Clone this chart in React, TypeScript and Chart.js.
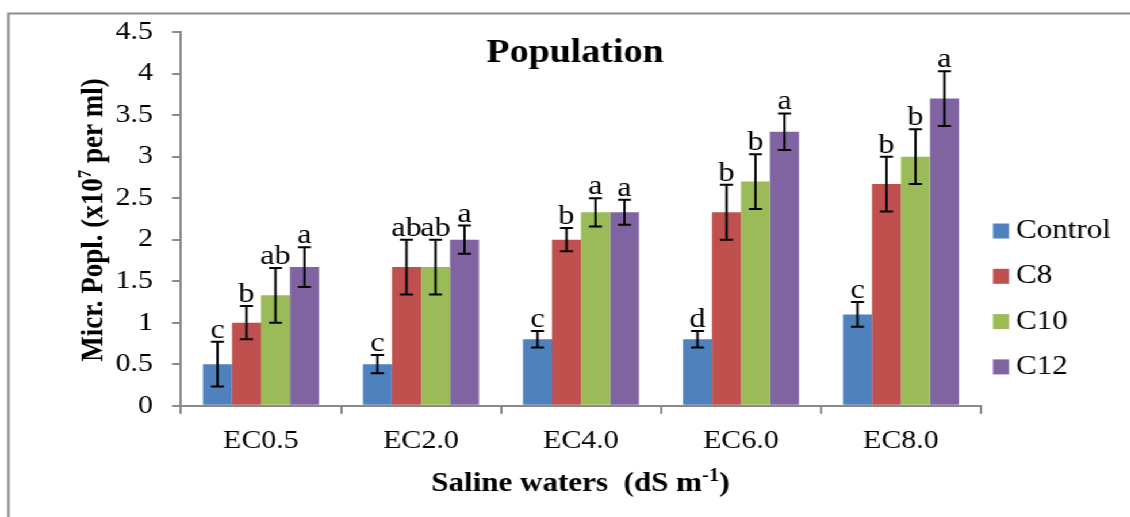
import React, { useEffect, useRef } from 'react';
import { Chart, registerables } from 'chart.js';

Chart.register(...registerables);

// ---------------- data ----------------
const categories = ['EC0.5', 'EC2.0', 'EC4.0', 'EC6.0', 'EC8.0'];
const seriesNames = ['Control', 'C8', 'C10', 'C12'];
const controlValues = [0.5, 0.5, 0.8, 0.8, 1.1];
const c8Values = [1.0, 1.67, 2.0, 2.33, 2.67];
const c10Values = [1.33, 1.67, 2.33, 2.7, 3.0];
const c12Values = [1.67, 2.0, 2.33, 3.3, 3.7];
const controlErrors = [0.27, 0.11, 0.1, 0.1, 0.15];
const c8Errors = [0.2, 0.33, 0.14, 0.33, 0.33];
const c10Errors = [0.33, 0.33, 0.17, 0.33, 0.33];
const c12Errors = [0.24, 0.17, 0.15, 0.22, 0.33];
const controlLetters = ['c', 'c', 'c', 'd', 'c'];
const c8Letters = ['b', 'ab', 'b', 'b', 'b'];
const c10Letters = ['ab', 'ab', 'a', 'b', 'b'];
const c12Letters = ['a', 'a', 'a', 'a', 'a'];
const yTickLabels = ['0', '0.5', '1', '1.5', '2', '2.5', '3', '3.5', '4', '4.5'];

const seriesValues = [controlValues, c8Values, c10Values, c12Values];
const seriesErrors = [controlErrors, c8Errors, c10Errors, c12Errors];
const seriesLetters = [controlLetters, c8Letters, c10Letters, c12Letters];
const colors = ['#4F81BD', '#C0504D', '#9BBB59', '#8064A2'];

// ---------------- layout ----------------
const SX = 1.15; // horizontal stretch of the whole picture
const W = 1130;
const H = 517;
const CW = Math.round(W / SX);
const FONT = '"Liberation Serif", "Times New Roman", serif';
const AXIS_GRAY = '#898989';
const px = (pageX: number) => pageX / SX;

const PLOT_LEFT = 181;
const PLOT_RIGHT = 981;
const PLOT_TOP = 30;
const PLOT_BOTTOM = 405.7;

const decorPlugin = {
  id: 'decor',
  beforeDraw(chart: any) {
    const ctx = chart.ctx;
    ctx.save();
    ctx.fillStyle = '#ffffff';
    ctx.fillRect(0, 0, chart.width, chart.height);
    ctx.strokeStyle = '#8c8c8c';
    ctx.lineWidth = 2;
    ctx.strokeRect(px(8.5), 13.5, chart.width + 20, chart.height + 20);
    ctx.restore();
  },
  afterDatasetsDraw(chart: any) {
    const ctx = chart.ctx;
    const yScale = chart.scales.y;
    ctx.save();
    seriesValues.forEach((vals, i) => {
      const meta = chart.getDatasetMeta(i);
      vals.forEach((v, j) => {
        const bar = meta.data[j];
        const x = bar.x;
        const e = seriesErrors[i][j];
        const yTop = yScale.getPixelForValue(v + e);
        const yBot = yScale.getPixelForValue(v - e);
        const cap = px(6.5);
        ctx.strokeStyle = '#000';
        ctx.lineWidth = 2;
        ctx.beginPath();
        ctx.moveTo(x, yTop);
        ctx.lineTo(x, yBot);
        ctx.moveTo(x - cap, yTop);
        ctx.lineTo(x + cap, yTop);
        ctx.moveTo(x - cap, yBot);
        ctx.lineTo(x + cap, yBot);
        ctx.stroke();
        ctx.fillStyle = '#000';
        ctx.font = `28px ${FONT}`;
        ctx.textAlign = 'center';
        ctx.textBaseline = 'alphabetic';
        ctx.fillText(seriesLetters[i][j], x, yTop - 4);
      });
    });
    ctx.restore();
  },
  afterDraw(chart: any) {
    const ctx = chart.ctx;
    ctx.save();
    ctx.fillStyle = '#000';
    // title
    ctx.font = `bold 33px ${FONT}`;
    ctx.textAlign = 'center';
    ctx.textBaseline = 'alphabetic';
    ctx.fillText('Population', px(575), 62);

    // x axis title with superscript
    const xMain = `bold 27px ${FONT}`;
    const xSup = `bold 18px ${FONT}`;
    const p1 = 'Saline waters  (dS m';
    const p2 = '-1';
    const p3 = ')';
    ctx.font = xMain;
    const w1 = ctx.measureText(p1).width;
    const w3 = ctx.measureText(p3).width;
    ctx.font = xSup;
    const w2 = ctx.measureText(p2).width;
    const total = w1 + w2 + w3;
    let sx = px(580.5) - total / 2;
    ctx.textAlign = 'left';
    ctx.font = xMain;
    ctx.fillText(p1, sx, 491);
    sx += w1;
    ctx.font = xSup;
    ctx.fillText(p2, sx, 481);
    sx += w2;
    ctx.font = xMain;
    ctx.fillText(p3, sx, 491);

    // y axis title (rotated) with superscript
    ctx.save();
    ctx.translate(px(102), 220);
    ctx.rotate(-Math.PI / 2);
    const yMain = `bold 27px ${FONT}`;
    const ySup = `bold 17px ${FONT}`;
    const q1 = 'Micr. Popl. (x10';
    const q2 = '7';
    const q3 = ' per ml)';
    ctx.font = yMain;
    const v1 = ctx.measureText(q1).width;
    const v3 = ctx.measureText(q3).width;
    ctx.font = ySup;
    const v2 = ctx.measureText(q2).width;
    let sy = -(v1 + v2 + v3) / 2;
    ctx.textAlign = 'left';
    ctx.font = yMain;
    ctx.fillText(q1, sy, 0);
    sy += v1;
    ctx.font = ySup;
    ctx.fillText(q2, sy, -10);
    sy += v2;
    ctx.font = yMain;
    ctx.fillText(q3, sy, 0);
    ctx.restore();

    // legend
    ctx.font = `27px ${FONT}`;
    ctx.textAlign = 'left';
    ctx.textBaseline = 'middle';
    seriesNames.forEach((name, i) => {
      const cy = 231 + i * 45.3;
      ctx.fillStyle = colors[i];
      ctx.fillRect(px(993), cy - 7.5, px(16), 15);
      ctx.fillStyle = '#000';
      ctx.fillText(name, px(1016), cy);
    });
    ctx.restore();
  },
};

export default function App() {
  const canvasRef = useRef<HTMLCanvasElement | null>(null);

  useEffect(() => {
    const canvas = canvasRef.current;
    if (!canvas) return;
    const chart = new Chart(canvas, {
      type: 'bar',
      data: {
        labels: categories,
        datasets: seriesNames.map((name, i) => ({
          label: name,
          data: seriesValues[i],
          backgroundColor: colors[i],
          borderWidth: 0,
          categoryPercentage: 0.725,
          barPercentage: 1.0,
        })),
      },
      options: {
        responsive: false,
        animation: false,
        devicePixelRatio: 1,
        layout: {
          padding: { left: 0, top: PLOT_TOP, right: CW - px(PLOT_RIGHT), bottom: 0 },
        },
        plugins: {
          legend: { display: false },
          title: { display: false },
          tooltip: { enabled: false },
        },
        scales: {
          x: {
            offset: true,
            grid: {
              offset: true,
              drawOnChartArea: false,
              drawTicks: true,
              tickLength: 8,
              color: AXIS_GRAY,
              lineWidth: 2,
            },
            border: { display: true, color: AXIS_GRAY, width: 2 },
            ticks: {
              color: '#000',
              font: { family: FONT, size: 26 },
              padding: 12,
              maxRotation: 0,
              autoSkip: false,
            },
            afterFit: (s: any) => {
              s.height = H - PLOT_BOTTOM;
            },
          },
          y: {
            min: 0,
            max: 4.5,
            grid: {
              drawOnChartArea: false,
              drawTicks: true,
              tickLength: px(9),
              color: AXIS_GRAY,
              lineWidth: 2,
            },
            border: { display: true, color: AXIS_GRAY, width: 2 },
            ticks: {
              stepSize: 0.5,
              color: '#000',
              font: { family: FONT, size: 26 },
              padding: px(19),
              callback: (_v: any, i: number) => yTickLabels[i],
            },
            afterFit: (s: any) => {
              s.width = px(PLOT_LEFT);
            },
          },
        },
      },
      plugins: [decorPlugin],
    });
    return () => chart.destroy();
  }, []);

  return (
    <div
      style={{
        position: 'fixed',
        left: 0,
        top: 0,
        width: CW,
        height: H,
        transform: `scaleX(${SX})`,
        transformOrigin: '0 0',
        background: '#fff',
      }}
    >
      <canvas ref={canvasRef} width={CW} height={H} style={{ width: CW, height: H, display: 'block' }} />
    </div>
  );
}
